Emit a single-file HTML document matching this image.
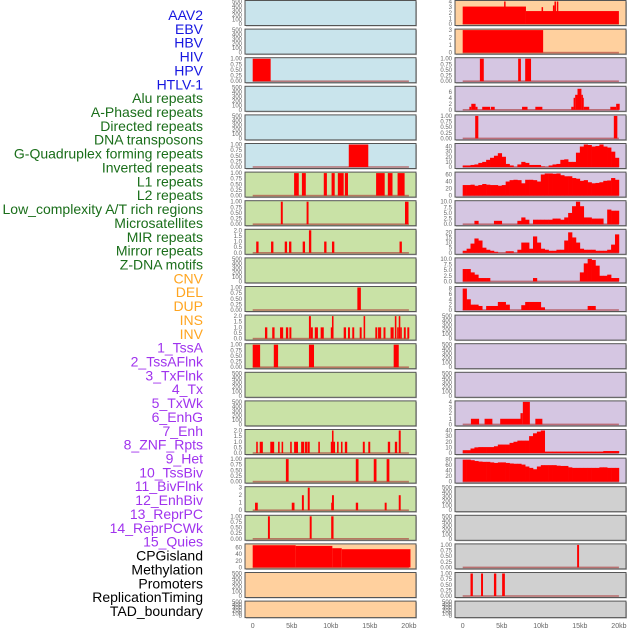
<!DOCTYPE html>
<html><head><meta charset="utf-8"><style>
html,body{margin:0;padding:0;background:#fff;}
svg{display:block;font-family:"Liberation Sans",sans-serif;}
</style></head><body>
<svg id="chart" width="630" height="630" viewBox="0 0 630 630" xmlns="http://www.w3.org/2000/svg"></svg>
<script>
// ---- labels ----
const labelNames = ["AAV2","EBV","HBV","HIV","HPV","HTLV-1","Alu repeats","A-Phased repeats","Directed repeats","DNA transposons","G-Quadruplex forming repeats","Inverted repeats","L1 repeats","L2 repeats","Low_complexity A/T rich regions","Microsatellites","MIR repeats","Mirror repeats","Z-DNA motifs","CNV","DEL","DUP","INS","INV","1_TssA","2_TssAFlnk","3_TxFlnk","4_Tx","5_TxWk","6_EnhG","7_Enh","8_ZNF_Rpts","9_Het","10_TssBiv","11_BivFlnk","12_EnhBiv","13_ReprPC","14_ReprPCWk","15_Quies","CPGisland","Methylation","Promoters","ReplicationTiming","TAD_boundary"];
const labelGroups = [0,0,0,0,0,0,1,1,1,1,1,1,1,1,1,1,1,1,1,2,2,2,2,2,3,3,3,3,3,3,3,3,3,3,3,3,3,3,3,4,4,4,4,4];
// ---- x axis ----
const xTickValues = [0,5,10,15,20];
const xTickLabels = ["0","5kb","10kb","15kb","20kb"];
// ---- tick sets ----
const ticksEmpty = [0,100,200,300,400,500];
const ticksUnit = [0,0.25,0.5,0.75,1];
const ticksTwo = [0,0.5,1,1.5,2];
const ticksTen = [0,2.5,5,7.5,10];
// ---- series (segments: [startKb, endKb, value]; bins: 0.5kb each) ----
const aav2Right = [[0,8.1,3.1],[8.1,20,2.3],[5.3,5.45,4],[10.1,10.25,3],[11.55,11.7,3.3],[11.75,11.85,4],[12.05,12.2,4]];
const ebvRight = [[0,10.3,3]];
const hivLeft = [[0,2.3,1]];
const hivRight = [[2.2,2.7,1],[7.1,7.45,1],[8.0,8.75,1]];
const aluRight = [[0.85,1.1,1],[1.1,1.65,2],[1.65,1.9,1],[2.5,3.5,1],[3.6,4.1,1],[7.6,8.3,1],[9.3,10.2,1],[13.9,14.2,1],[14.2,14.4,4],[14.4,14.7,5],[14.7,15.2,7],[15.2,15.3,5],[15.3,15.5,4],[15.5,16.2,1],[18.9,19.65,1],[19.65,20.1,2]];
const aPhasedRight = [[1.6,2.0,1],[19.35,19.8,1]];
const directedLeft = [[12.3,14.8,1]];
const directedRight = [3,3,4,5,8,10,14,18,22,27,20,6,3,0,5,10,8,4,4,4,1,0,3,5,6,14,15,10,10,28,40,44,43,40,41,44,40,38,30,18];
const dnaLeft = [[5.3,5.9,1],[6.3,6.8,1],[9.1,9.5,1],[10.1,10.5,1],[10.9,11.65,1],[11.8,12.2,1],[15.8,16.9,1],[17.3,17.9,1],[18.55,19.45,1]];
const dnaRight = [30,30,31,28,30,33,31,30,30,28,30,40,44,45,44,35,45,45,44,40,60,63,63,62,63,58,55,55,50,48,42,44,38,35,36,38,42,43,50,45];
const gquadLeft = [[3.6,3.85,1],[6.9,7.15,1],[19.5,19.95,1]];
const gquadRight = [0,0,0,1.5,0,0,0,0,1.5,1.5,0,0,0,0,1.5,3,2,0,2,2,2,2,2,2.5,2.5,2,3,5,8,10,8,3,3,2.5,2.5,2.5,0,6.5,6,6];
const invertedLeft = [[0.45,0.75,1],[2.35,2.65,1],[4.1,4.4,1],[4.65,4.95,1],[6.4,6.7,1],[7.2,7.5,2],[9.15,9.45,1],[10.15,10.45,1],[18.8,19.1,1]];
const invertedRight = [2,4,9,14,12,5,3,2,1,0,0,1.5,1.5,0,3,10,10,4,16,10,4,3,2,2,3,3,12,20,15,10,4,3,3,3,2,2,2,3,8,18];
const l2Right = [5.5,5.5,4,3,1.5,1.5,1.5,0,0,0,0,0,0,0,0,0,0,0,1.5,0,0,0,0,0,0,0,0,0,0,0,4,8,10,9.5,7,2.5,2.5,3,1.5,1.5];
const lowCxLeft = [[13.4,13.85,1]];
const lowCxRight = [8,4,2,2,1.5,0,1.5,1.5,1.5,3,3,2,0,0,0,1.8,3,3,3,3,1,0,0,0,0,0,0,0,0,0,0,0,1.5,1.5,0,0,0,0,0,0];
const microLeft = [[1.57,1.87,1],[2.5,2.8,1],[3.5,3.9,1],[4.25,4.55,1],[4.7,4.95,1],[7.2,7.45,2],[7.45,7.7,1],[7.95,8.35,1],[8.7,9.1,1],[10.0,10.15,1],[10.15,10.35,2],[11.65,11.95,1],[12.2,12.45,1],[12.75,13.0,1],[13.7,13.95,1],[14.2,14.4,2],[15.7,15.95,1],[16.05,16.45,1],[16.75,17.0,1],[17.65,18.05,1],[18.2,18.4,2],[18.5,18.7,1],[18.7,18.9,2],[18.9,19.0,1],[19.35,19.6,1],[19.8,20.05,1]];
const mirLeft = [[0,0.95,1],[2.7,3.25,1],[7.2,7.85,1],[18.05,18.7,1]];
const cnvRight = [[1.05,2.1,1],[2.8,3.8,1],[4.8,7.4,1],[7.4,7.7,2],[7.7,8.6,4],[9.3,10.2,1]];
const delLeft = [[0.45,0.65,1],[0.9,1.3,1],[2.25,2.75,1],[3.25,3.45,1],[3.7,3.9,1],[4.8,5.0,1],[5.3,5.8,1],[6.2,6.6,1],[6.7,6.95,1],[7.0,7.3,1],[8.4,8.6,1],[10.0,10.15,1],[10.15,10.35,2],[10.35,10.5,1],[10.8,11.0,1],[11.3,11.5,1],[11.8,12.1,1],[14.1,14.35,1],[14.8,15.05,1],[17.3,17.6,1],[18.2,18.5,1],[18.7,18.95,2]];
const delRight = [5,5,8,10,10.5,10.5,10.5,10.5,12,15,15,15,18,20,22,22,22,30,35,38,40,2.5,2.5,2.5,2.5,2.5,2.5,2.5,2.5,2.5,2.5,2.5,2.5,2.5,2.5,2.5,3.5,3.5,3.5,3.5];
const dupLeft = [[4.25,4.6,1],[13.2,13.55,1],[15.5,15.85,1],[17.15,17.5,1]];
const dupRight = [80,80,78,75,73,72,72,70,68,70,70,68,66,65,65,62,55,50,45,55,60,60,60,60,58,57,57,52,50,50,50,50,50,50,50,52,52,50,50,50];
const insLeft = [[0.3,0.65,1],[5.0,5.35,1],[6.3,6.55,2],[7.05,7.3,3],[10.05,10.15,1],[10.15,10.4,2],[13.2,13.5,1],[16.9,17.15,1],[18.7,18.95,2]];
const invLeft = [[1.95,2.2,1],[7.3,7.55,1],[10.05,10.35,1]];
const cpgLeft = [[0,5.5,67],[5.5,10.2,65],[10.2,11.4,58],[11.4,20.2,55]];
const cpgRight = [[14.65,14.9,1]];
const methRight = [[1.0,1.3,1],[2.35,2.6,1],[4.0,4.3,1],[5.05,5.4,1]];

// ---- panel configuration (row, side, series, kind, yMax, ticks) ----
const panels = [
 [0,0,null,null,500,ticksEmpty],[0,1,aav2Right,"seg",4,[0,1,2,3,4]],
 [1,0,null,null,500,ticksEmpty],[1,1,ebvRight,"seg",3,[0,1,2,3]],
 [2,0,hivLeft,"seg",1,ticksUnit],[2,1,hivRight,"seg",1,ticksUnit],
 [3,0,null,null,500,ticksEmpty],[3,1,aluRight,"seg",7.5,[0,2,4,6]],
 [4,0,null,null,500,ticksEmpty],[4,1,aPhasedRight,"seg",1,ticksUnit],
 [5,0,directedLeft,"seg",1,ticksUnit],[5,1,directedRight,"bin",44,[0,10,20,30,40]],
 [6,0,dnaLeft,"seg",1,ticksUnit],[6,1,dnaRight,"bin",64,[0,20,40,60]],
 [7,0,gquadLeft,"seg",1,ticksUnit],[7,1,gquadRight,"bin",10,ticksTen],
 [8,0,invertedLeft,"seg",2,ticksTwo],[8,1,invertedRight,"bin",22,[0,5,10,15,20]],
 [9,0,null,null,500,ticksEmpty],[9,1,l2Right,"bin",10,ticksTen],
 [10,0,lowCxLeft,"seg",1,ticksUnit],[10,1,lowCxRight,"bin",8.4,[0,2,4,6,8]],
 [11,0,microLeft,"seg",2,ticksTwo],[11,1,null,null,500,ticksEmpty],
 [12,0,mirLeft,"seg",1,ticksUnit],[12,1,null,null,500,ticksEmpty],
 [13,0,null,null,500,ticksEmpty],[13,1,null,null,500,ticksEmpty],
 [14,0,null,null,500,ticksEmpty],[14,1,cnvRight,"seg",4,[0,1,2,3,4]],
 [15,0,delLeft,"seg",2,ticksTwo],[15,1,delRight,"bin",40,[0,10,20,30,40]],
 [16,0,dupLeft,"seg",1,ticksUnit],[16,1,dupRight,"bin",82,[0,20,40,60,80]],
 [17,0,insLeft,"seg",3,[0,1,2,3]],[17,1,null,null,500,ticksEmpty],
 [18,0,invLeft,"seg",1,ticksUnit],[18,1,null,null,500,ticksEmpty],
 [19,0,cpgLeft,"seg",68,[0,20,40,60]],[19,1,cpgRight,"seg",1,ticksUnit],
 [20,0,null,null,500,ticksEmpty],[20,1,methRight,"seg",1,ticksUnit],
 [21,0,null,null,500,ticksEmpty],[21,1,null,null,500,ticksEmpty]
];

const svg = document.getElementById('chart');
const NS = "http://www.w3.org/2000/svg";
function mk(tag, attrs, parent){ const e=document.createElementNS(NS,tag); for(const k in attrs) e.setAttribute(k,attrs[k]); (parent||svg).appendChild(e); return e; }

const groupColors = ["#1616e0","#1a6e1a","#ffa520","#a033ee","#000000"];
labelNames.forEach((name,i)=>{
  const t = mk('text',{x:203,y:15+13.86*i+5,'text-anchor':'end','font-size':'14',fill:groupColors[labelGroups[i]]});
  t.textContent = name;
  
  
});

const panelX = [245, 455];
const panelW = 171;
const zeroX = [252.7, 462.7];
const kbPx = 7.81;
function bgColor(row, side){
  if(side===0) return row<=5 ? "#c9e4ec" : (row<=18 ? "#c9e2a6" : "#ffd09e");
  return row<=1 ? "#ffd09e" : (row<=16 ? "#d5c6e2" : "#d0d0d0");
}
function fmt(v, ticks){
  const mx = ticks[ticks.length-1];
  if(ticks===ticksUnit) return v.toFixed(2);
  if(ticks===ticksTwo || ticks===ticksTen) return v.toFixed(1);
  return String(v);
}
panels.forEach(p=>{
  const [row, side, data, kind, yMax, ticks] = p;
  const T = 0.5 + 28.6*row;
  const H = row===21 ? 16.5 : 25;
  const g = mk('g',{});
  
  
  const xs = v => zeroX[side] + v*kbPx;
  const ys = v => T + H - 1.5 - (H-2.5)*v/yMax;
  mk('rect',{x:panelX[side]+1,y:T+1,width:panelW,height:H,fill:'#bbb'},g);
  mk('rect',{x:panelX[side],y:T,width:panelW,height:H,fill:bgColor(row,side),stroke:'#555','stroke-width':1},g);
  ticks.forEach(tv=>{
    const tt = mk('text',{x:panelX[side]-3,y:ys(tv)+2,'text-anchor':'end','font-size':'6','fill':'#666'},g);
    tt.textContent = fmt(tv, ticks);
    
    
  });
  if(!data) return;
  mk('rect',{x:xs(0),y:ys(0)-0.8,width:xs(20)-xs(0),height:1.6,fill:'rgba(170,50,50,0.6)'},g);
  if(kind==="seg"){
    data.forEach(s=>{
      const b = mk('rect',{x:xs(s[0]),y:ys(s[2]),width:Math.max(1.5,xs(s[1])-xs(s[0])),height:ys(0)-ys(s[2]),fill:'#ff0000'},g);
      
      
    });
  } else {
    data.forEach((v,i)=>{
      if(v<=0) return;
      const b = mk('rect',{x:xs(i*0.5),y:ys(v),width:xs(0.5)-xs(0)+0.3,height:ys(0)-ys(v),fill:'#ff0000'},g);
      
      
    });
  }
});

[0,1].forEach(side=>{
  xTickValues.forEach((v,i)=>{
    const t = mk('text',{x:zeroX[side]+v*kbPx,y:628,'text-anchor':'middle','font-size':'7','fill':'#666'});
    t.textContent = xTickLabels[i];
    
    
  });
});
</script>
</body></html>
